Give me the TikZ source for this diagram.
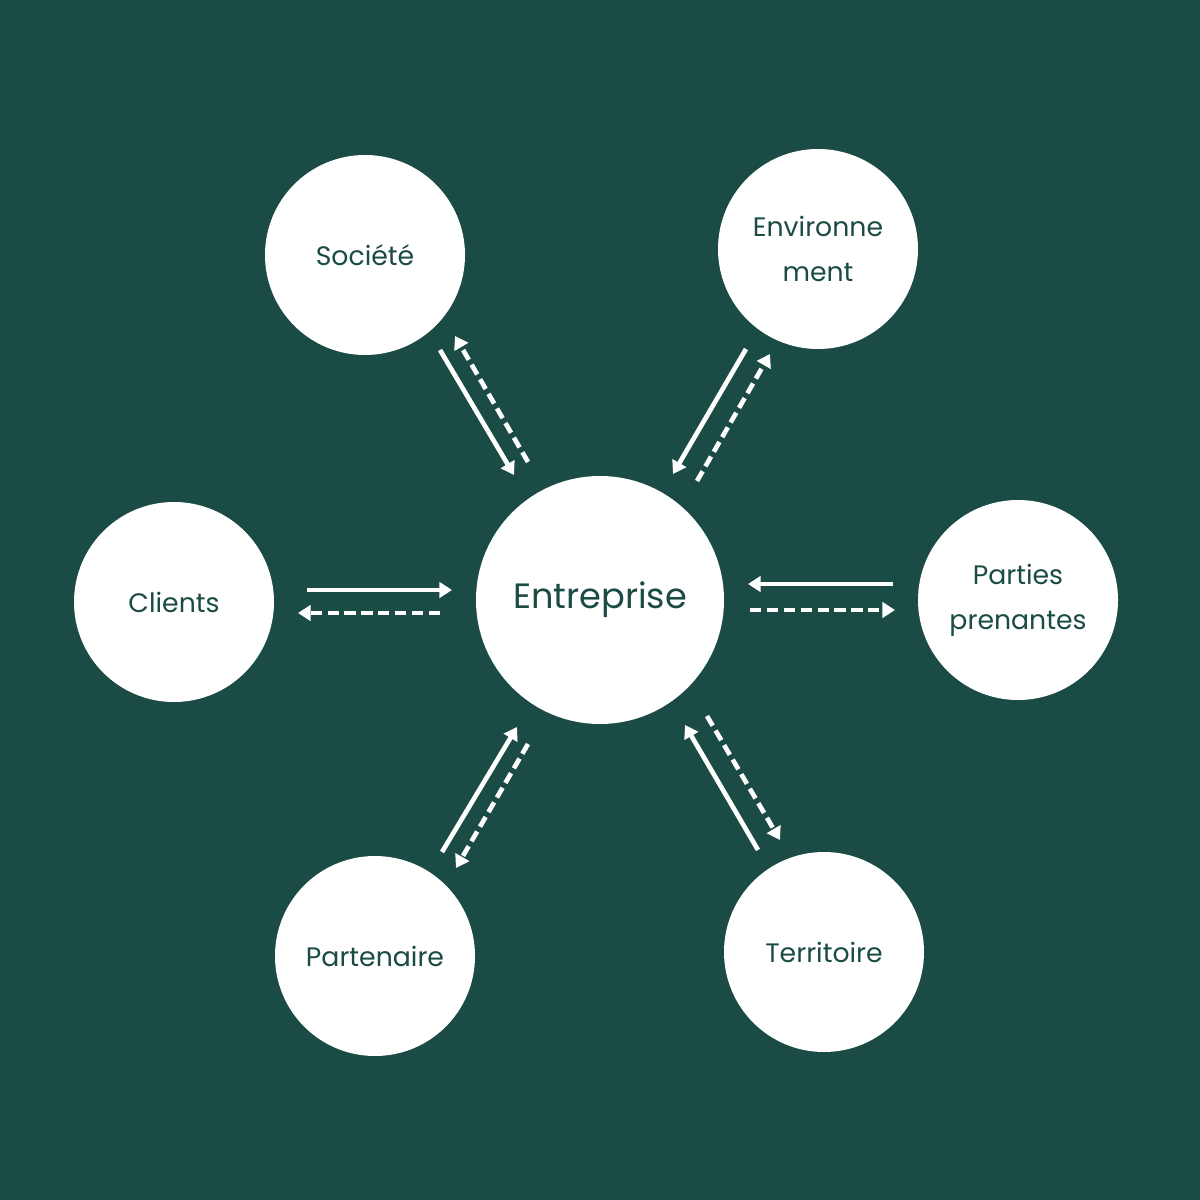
\documentclass[tikz,border=0pt]{standalone}
\usepackage{fontspec}
\setmainfont{Poppins}
\usetikzlibrary{arrows.meta}
\definecolor{bg}{HTML}{1B4B45}
\begin{document}
\begin{tikzpicture}[x=0.025cm,y=-0.025cm,
  sat/.style={circle,fill=white,minimum size=200*0.025cm,inner sep=0pt,align=center,text=bg,font=\fontsize{19}{32}\selectfont},
  sol/.style={white,line width=3.3pt,-{Triangle[length=9pt,width=11pt]}},
  das/.style={sol,dash pattern=on 8pt off 4pt}]
\fill[bg] (0,0) rectangle (1200,1200);
\useasboundingbox (0,0) rectangle (1200,1200);
\node[sat,minimum size=248*0.025cm,font=\fontsize{25}{30}\selectfont] (E) at (600,600) {\raisebox{-3pt}{Entreprise}};
\node[sat] (S) at (365,255) {Société};
\node[sat] (V) at (818,249) {Environne\\ment};
\node[sat] (C) at (174,602) {Clients};
\node[sat] (P) at (1018,600) {Parties\\prenantes};
\node[sat] (A) at (375,956) {Partenaire};
\node[sat] (T) at (824,952) {Territoire};
% Clients
\coordinate (c1) at (307,590); \coordinate (c2) at (452,590);
\coordinate (c3) at (440,613); \coordinate (c4) at (298,613);
\draw[sol] (c1) -- (c2); \draw[das] (c3) -- (c4);
% Parties
\coordinate (p1) at (893,584); \coordinate (p2) at (748,584);
\coordinate (p3) at (750,610); \coordinate (p4) at (895,610);
\draw[sol] (p1) -- (p2); \draw[das] (p3) -- (p4);
% Societe
\coordinate (s1) at (440,350); \coordinate (s2) at (514,475);
\coordinate (s3) at (528,462); \coordinate (s4) at (455,336);
\draw[sol] (s1) -- (s2); \draw[das] (s3) -- (s4);
% Environnement
\coordinate (v1) at (746,349); \coordinate (v2) at (673,474);
\coordinate (v3) at (697,481); \coordinate (v4) at (770,354);
\draw[sol] (v1) -- (v2); \draw[das] (v3) -- (v4);
% Partenaire
\coordinate (a1) at (442,852); \coordinate (a2) at (517,727);
\coordinate (a3) at (528,744); \coordinate (a4) at (456,868);
\draw[sol] (a1) -- (a2); \draw[das] (a3) -- (a4);
% Territoire
\coordinate (t1) at (758,850); \coordinate (t2) at (685,725);
\coordinate (t3) at (707,716); \coordinate (t4) at (780,840);
\draw[sol] (t1) -- (t2); \draw[das] (t3) -- (t4);
\end{tikzpicture}
\end{document}
